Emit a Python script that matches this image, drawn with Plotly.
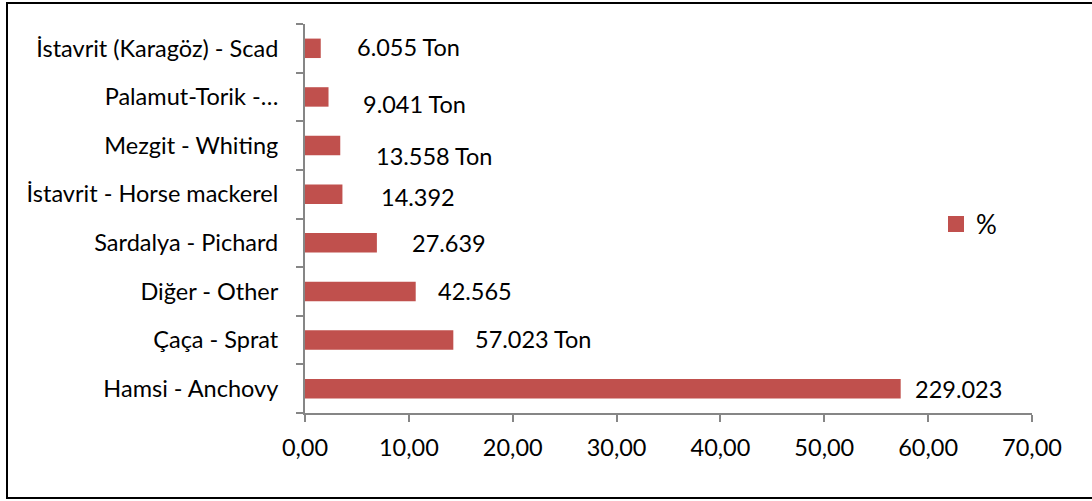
import plotly.graph_objects as go

categories = ["Hamsi - Anchovy", "Çaça - Sprat", "Diğer - Other", "Sardalya - Pichard",
              "İstavrit - Horse mackerel", "Mezgit - Whiting", "Palamut-Torik -…",
              "İstavrit (Karagöz) - Scad"]
tons = [229.023, 57.023, 42.565, 27.639, 14.392, 13.558, 9.041, 6.055]
labels = ["229.023", "57.023 Ton", "42.565", "27.639", "14.392", "13.558 Ton", "9.041 Ton", "6.055 Ton"]
x_ticks = [0, 10, 20, 30, 40, 50, 60, 70]
x_tick_text = ["0,00", "10,00", "20,00", "30,00", "40,00", "50,00", "60,00", "70,00"]

total = sum(tons)
pct = [t / total * 100 for t in tons]

# label placement (manually moved in original)
label_x = [58.54, 16.18, 12.61, 10.11, 7.12, 6.64, 5.39, 4.81]
label_dy = [0, 1, 0, 0, -3, -10, -7, 1]

FONT = "Lato"
FS = 23.5
COLOR = "#C0504D"
AXC = "#868686"

fig = go.Figure()
fig.add_trace(go.Bar(y=categories, x=pct, orientation="h", marker=dict(color=COLOR, line=dict(width=0)),
                     name="%", width=0.4, showlegend=False))
fig.add_trace(go.Scatter(x=[None], y=[None], mode="markers", name="%",
                         marker=dict(symbol="square", size=17, color=COLOR), showlegend=True))

for c, lab, lx, dy in zip(categories, labels, label_x, label_dy):
    fig.add_annotation(x=lx, y=c, text=lab, showarrow=False, xanchor="left", yanchor="middle",
                       yshift=dy, font=dict(family=FONT, size=FS, color="#000000"))

L, R, T, B = 305, 60, 24, 88
W, H = 1092, 501
pw, ph = W - L - R, H - T - B

def px(xp):
    return (xp - L) / pw

def py(yp):
    return (H - B - yp) / ph

fig.add_shape(type="line", xref="paper", yref="paper", x0=px(7), x1=px(7), y0=py(3), y1=py(498),
              line=dict(color="#000000", width=2))
fig.add_shape(type="line", xref="paper", yref="paper", x0=px(6), x1=px(1100), y0=py(3), y1=py(3),
              line=dict(color="#000000", width=2))
fig.add_shape(type="line", xref="paper", yref="paper", x0=px(6), x1=px(1100), y0=py(498), y1=py(498),
              line=dict(color="#000000", width=2))

fig.update_layout(
    width=W, height=H,
    margin=dict(l=L, r=R, t=T, b=B, pad=0),
    paper_bgcolor="white", plot_bgcolor="white",
    font=dict(family=FONT, size=FS, color="#000000"),
    bargap=0.6,
    legend=dict(x=px(936), y=py(224), xanchor="left", yanchor="middle", font=dict(family=FONT, size=26),
                bgcolor="rgba(0,0,0,0)", itemwidth=30),
    xaxis=dict(range=[0, 70], tickvals=x_ticks, ticktext=x_tick_text, showgrid=False, zeroline=False,
               showline=True, linecolor=AXC, linewidth=2, ticks="outside", ticklen=7, tickcolor=AXC,
               tickwidth=1.5, ticklabelstandoff=6, tickfont=dict(family=FONT, size=FS)),
    yaxis=dict(showgrid=False, zeroline=False, showline=True, linecolor=AXC, linewidth=2,
               ticks="outside", ticklen=7, tickcolor=AXC, tickwidth=1.5, tickson="boundaries",
               ticklabelstandoff=20, tickfont=dict(family=FONT, size=FS),
               categoryorder="array", categoryarray=categories),
)

fig.write_html("out.html")
